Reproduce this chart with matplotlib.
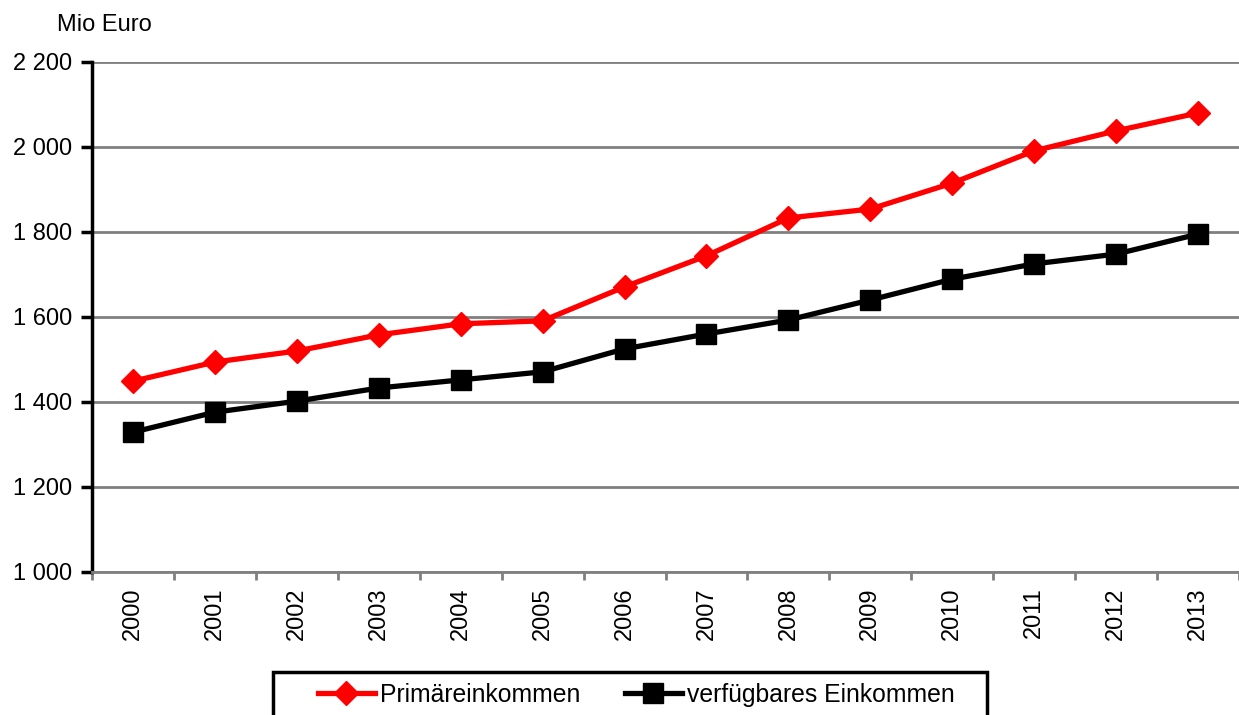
import matplotlib.pyplot as plt
import matplotlib.ticker as mticker
from matplotlib.patches import Rectangle

# data
years = ['2000', '2001', '2002', '2003', '2004', '2005', '2006',
         '2007', '2008', '2009', '2010', '2011', '2012', '2013']
primaer = [1449, 1494, 1520, 1558, 1584, 1591, 1671,
           1744, 1833, 1854, 1915, 1991, 2038, 2080]
verfuegbar = [1329, 1376, 1402, 1433, 1452, 1471, 1525,
              1560, 1593, 1640, 1689, 1725, 1748, 1795]

plt.rcParams['font.family'] = ['Liberation Sans', 'DejaVu Sans']

fig = plt.figure(figsize=(12.39, 7.15), dpi=100)
ax = fig.add_axes([0.0743, 0.2, 1 - 0.0743, 0.7133])

x = list(range(len(years)))
ax.plot(x, primaer, color='#ff0000', lw=3.8, marker='D', ms=12,
        label='Primäreinkommen', zorder=3)
ax.plot(x, verfuegbar, color='black', lw=3.8, marker='s', ms=14,
        label='verfügbares Einkommen', zorder=3)

ax.set_xlim(-0.5, len(years) - 0.5)
ax.set_ylim(1000, 2200)
ax.yaxis.set_major_locator(mticker.MultipleLocator(200))
ax.yaxis.set_major_formatter(mticker.FuncFormatter(
    lambda v, p: f'{int(v):,}'.replace(',', ' ')))
ax.grid(axis='y', color='#808080', lw=2)
ax.set_axisbelow(True)

ax.set_xticks(x)
ax.set_xticklabels(years, rotation=90)
ax.set_xticks([i - 0.5 for i in range(len(years) + 1)], minor=True)
ax.tick_params(axis='x', which='major', length=0, labelsize=17, pad=11)
ax.tick_params(axis='x', which='minor', length=6, width=2, color='#808080')
ax.tick_params(axis='y', length=8, width=2.5, color='black', labelsize=17, pad=6)

for s in ['top', 'right']:
    ax.spines[s].set_visible(False)
ax.spines['left'].set_linewidth(2.5)
ax.spines['left'].set_color('black')
ax.spines['bottom'].set_linewidth(2)
ax.spines['bottom'].set_color('#808080')

fig.text(0.046, 0.965, 'Mio Euro', fontsize=17, va='center')

# legend without its own frame, boxed by a rectangle that runs off the bottom
fig.legend(loc='upper left', bbox_to_anchor=(0.2567, 0.0448),
           ncol=2, frameon=False, prop={'size': 17.8},
           handlelength=2.3, columnspacing=1.8, borderpad=0,
           borderaxespad=0, handletextpad=0.2)
fig.patches.append(Rectangle((0.2203, -0.05), 0.5763, 0.1101, transform=fig.transFigure,
                             fill=False, edgecolor='black', lw=2.5, clip_on=False))

fig.savefig('out.png', dpi=100)
